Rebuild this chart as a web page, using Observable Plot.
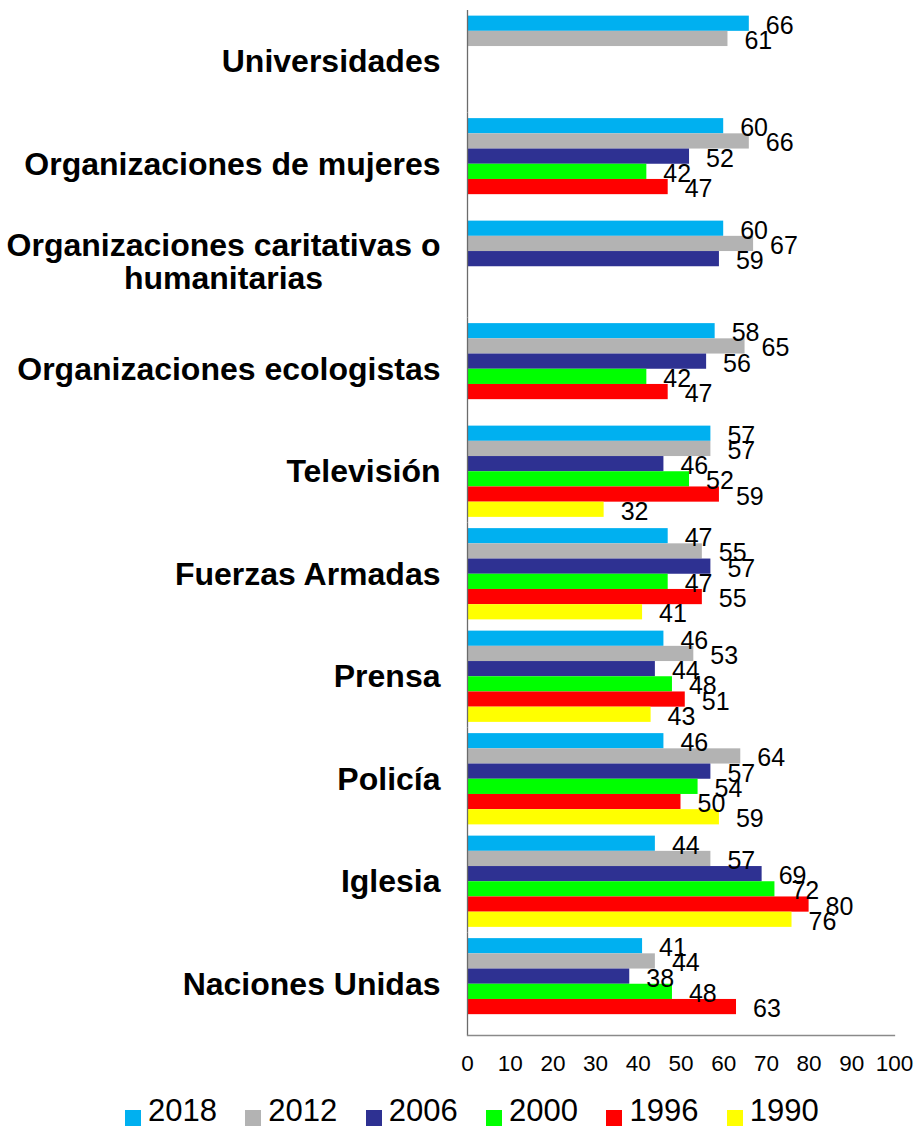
<!DOCTYPE html>
<html>
<head>
<meta charset="utf-8">
<script src="https://cdn.jsdelivr.net/npm/d3@7"></script>
<script src="https://cdn.jsdelivr.net/npm/@observablehq/plot@0.6"></script>
<style>
  body { margin: 0; background: #fff; font-family: "Liberation Sans", Arial, sans-serif; }
  #wrap { position: relative; width: 916px; height: 1131px; overflow: hidden; }
  #legend { position: absolute; left: 125px; top: 1093px; display: flex; gap: 28.4px;
            font-size: 31px; line-height: 36px; color: #000; white-space: nowrap; }
  #legend .sw { display: inline-block; width: 16px; height: 16px; vertical-align: -5px; margin-right: 7px; }
</style>
</head>
<body>
<div id="wrap"><div id="chart"></div><div id="legend"></div></div>
<script>
const categories = [
  "Universidades",
  "Organizaciones de mujeres",
  "Organizaciones caritativas o humanitarias",
  "Organizaciones ecologistas",
  "Televisión",
  "Fuerzas Armadas",
  "Prensa",
  "Policía",
  "Iglesia",
  "Naciones Unidas"
];
const categoryLabels = [
  "Universidades",
  "Organizaciones de mujeres",
  "Organizaciones caritativas o\nhumanitarias",
  "Organizaciones ecologistas",
  "Televisión",
  "Fuerzas Armadas",
  "Prensa",
  "Policía",
  "Iglesia",
  "Naciones Unidas"
];
const years = ["2018", "2012", "2006", "2000", "1996", "1990"];
const v2018 = [66, 60, 60, 58, 57, 47, 46, 46, 44, 41];
const v2012 = [61, 66, 67, 65, 57, 55, 53, 64, 57, 44];
const v2006 = [null, 52, 59, 56, 46, 57, 44, 57, 69, 38];
const v2000 = [null, 42, null, 42, 52, 47, 48, 54, 72, 48];
const v1996 = [null, 47, null, 47, 59, 55, 51, 50, 80, 63];
const v1990 = [null, null, null, null, 32, 41, 43, 59, 76, null];
const xTicks = [0, 10, 20, 30, 40, 50, 60, 70, 80, 90, 100];
const yearColors = ["#00B0F0", "#B3B3B3", "#2E3192", "#00FF00", "#FF0000", "#FFFF00"];

const series = [v2018, v2012, v2006, v2000, v1996, v1990];
const data = [];
years.forEach((yr, j) => series[j].forEach((v, i) => {
  if (v != null) data.push({category: categories[i], year: yr, value: v});
}));

const fontFamily = '"Liberation Sans", Arial, sans-serif';
const catFontSize = 32;
const labelGap = 27;
const ctx = document.createElement("canvas").getContext("2d");
ctx.font = `bold ${catFontSize}px ${fontFamily}`;

const labs = categories.map((c, i) => ({category: c, label: categoryLabels[i]}));
const singleLabs = labs.filter(d => !d.label.includes("\n"));
const multiLabs = labs.filter(d => d.label.includes("\n"));

const multiMarks = multiLabs.map(d => {
  const w = d3.max(d.label.split("\n"), s => ctx.measureText(s).width);
  return Plot.text([d], {
    fy: "category", text: "label", frameAnchor: "left", textAnchor: "middle",
    dx: -labelGap - w / 2, dy: -5, lineHeight: 1.03,
    fontSize: catFontSize, fontWeight: "bold", fill: "#000"
  });
});

const chart = Plot.plot({
  width: 916,
  height: 1090,
  marginLeft: 467,
  marginRight: 22,
  marginTop: 10,
  marginBottom: 55,
  style: {fontFamily, fontSize: "22.5px", color: "#000", background: "#fff", overflow: "visible"},
  x: {domain: [0, 100], ticks: xTicks, tickSize: 0, tickPadding: 20, label: null},
  y: {domain: years, paddingInner: 0, paddingOuter: 0.37, axis: null, round: false},
  fy: {domain: categories, padding: 0, axis: null, round: false},
  color: {domain: years, range: yearColors},
  marks: [
    Plot.barX(data, {fy: "category", y: "year", x: "value", fill: "year"}),
    Plot.ruleX([0], {stroke: "#6b6b6b", strokeWidth: 1.3}),
    Plot.frame({anchor: "bottom", facet: "super", stroke: "#8a8a8a", strokeWidth: 1.3}),
    Plot.text(data, {
      fy: "category", y: "year", x: "value", text: d => String(d.value),
      textAnchor: "start", dx: 16.5, dy: 2, fontSize: 25, fill: "#000"
    }),
    Plot.text(singleLabs, {
      fy: "category", text: "label", frameAnchor: "left", textAnchor: "end",
      dx: -labelGap, fontSize: catFontSize, fontWeight: "bold", fill: "#000"
    }),
    ...multiMarks
  ]
});
document.getElementById("chart").appendChild(chart);

const legend = d3.select("#legend");
years.forEach((yr, j) => {
  const item = legend.append("span");
  item.append("span").attr("class", "sw").style("background", yearColors[j]);
  item.append("span").text(yr);
});
</script>
</body>
</html>
